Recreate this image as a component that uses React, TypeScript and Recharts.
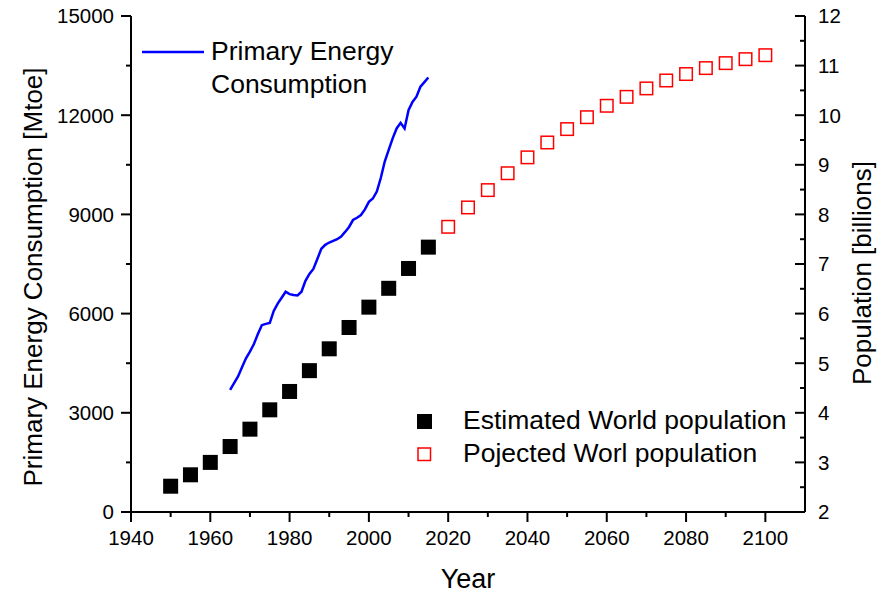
import React from 'react';
import { ComposedChart, Line, Scatter, XAxis, YAxis, Legend } from 'recharts';

// primary energy consumption, Mtoe per year
const energyYears = [
    1965, 1966, 1967, 1968, 1969, 1970, 1971, 1972, 1973, 1974,
    1975, 1976, 1977, 1978, 1979, 1980, 1981, 1982, 1983, 1984,
    1985, 1986, 1987, 1988, 1989, 1990, 1991, 1992, 1993, 1994,
    1995, 1996, 1997, 1998, 1999, 2000, 2001, 2002, 2003, 2004,
    2005, 2006, 2007, 2008, 2009, 2010, 2011, 2012, 2013, 2014,
    2015,
];
const energyMtoe = [
    3690, 3900, 4100, 4380, 4650, 4850, 5080, 5380, 5650, 5690,
    5720, 6080, 6300, 6480, 6660, 6590, 6560, 6550, 6660, 6990,
    7200, 7350, 7650, 7960, 8080, 8150, 8200, 8250, 8330, 8470,
    8620, 8830, 8900, 8980, 9150, 9380, 9480, 9690, 10100, 10600,
    10950, 11300, 11600, 11770, 11600, 12150, 12400, 12560, 12860, 13000,
    13140,
];

// population, billions
const estimatedYears = [1950, 1955, 1960, 1965, 1970, 1975, 1980, 1985, 1990, 1995, 2000, 2005, 2010, 2015];
const estimatedPop = [2.52, 2.75, 3.0, 3.32, 3.67, 4.06, 4.43, 4.85, 5.29, 5.72, 6.13, 6.51, 6.91, 7.34];

const projectedYears = [2020, 2025, 2030, 2035, 2040, 2045, 2050, 2055, 2060, 2065, 2070, 2075, 2080, 2085, 2090, 2095, 2100];
const projectedPop = [7.75, 8.14, 8.49, 8.83, 9.15, 9.45, 9.72, 9.96, 10.19, 10.37, 10.54, 10.7, 10.83, 10.95, 11.05, 11.13, 11.21];

const yearTicks = [1940, 1950, 1960, 1970, 1980, 1990, 2000, 2010, 2020, 2030, 2040, 2050, 2060, 2070, 2080, 2090, 2100];
const yearLabels = [1940, 1960, 1980, 2000, 2020, 2040, 2060, 2080, 2100];
const energyTicks = [0, 1500, 3000, 4500, 6000, 7500, 9000, 10500, 12000, 13500, 15000];
const energyLabels = [0, 3000, 6000, 9000, 12000, 15000];
const popTicks = [2, 2.5, 3, 3.5, 4, 4.5, 5, 5.5, 6, 6.5, 7, 7.5, 8, 8.5, 9, 9.5, 10, 10.5, 11, 11.5, 12];
const popLabels = [2, 3, 4, 5, 6, 7, 8, 9, 10, 11, 12];

const energyName = 'Primary Energy Consumption';
const estimatedName = 'Estimated World population';
const projectedName = 'Pojected Worl population';

const energyData = energyYears.map((year, i) => ({ year, mtoe: energyMtoe[i] }));
const estimatedData = estimatedYears.map((year, i) => ({ year, pop: estimatedPop[i] }));
const projectedData = projectedYears.map((year, i) => ({ year, pop: projectedPop[i] }));

const FONT = 'Arial, "Liberation Sans", Helvetica, sans-serif';
const MAJOR = 10;
const MINOR = 5;

const BottomTick = (props: any) => {
    const { x, y, payload } = props;
    const major = yearLabels.includes(payload.value);
    return (
        <g>
            <line x1={x} y1={y} x2={x} y2={y + (major ? MAJOR : MINOR)} stroke="#000" strokeWidth={2} />
            {major && (
                <text x={x} y={y + 33} textAnchor="middle" fontSize={20.5} fontFamily={FONT} fill="#000">
                    {payload.value}
                </text>
            )}
        </g>
    );
};

// top mirror axis: ticks point into the plot
const TopTick = (props: any) => {
    const { x, y, payload } = props;
    const major = yearLabels.includes(payload.value);
    return <line x1={x} y1={y} x2={x} y2={y + (major ? MAJOR : MINOR)} stroke="#000" strokeWidth={2} />;
};

const LeftTick = (props: any) => {
    const { x, y, payload } = props;
    const major = energyLabels.includes(payload.value);
    return (
        <g>
            <line x1={x - (major ? MAJOR : MINOR)} y1={y} x2={x} y2={y} stroke="#000" strokeWidth={2} />
            {major && (
                <text x={x - 17} y={y} dy="0.36em" textAnchor="end" fontSize={20.5} fontFamily={FONT} fill="#000">
                    {payload.value}
                </text>
            )}
        </g>
    );
};

// right axis ticks point inward too
const RightTick = (props: any) => {
    const { x, y, payload } = props;
    const major = popLabels.includes(payload.value);
    return (
        <g>
            <line x1={x - (major ? MAJOR : MINOR)} y1={y} x2={x} y2={y} stroke="#000" strokeWidth={2} />
            {major && (
                <text x={x + 13} y={y} dy="0.36em" textAnchor="start" fontSize={20.5} fontFamily={FONT} fill="#000">
                    {payload.value}
                </text>
            )}
        </g>
    );
};

const titleStyle = { fontSize: 26, fontFamily: FONT, fill: '#000' };

const BottomTitle = ({ viewBox }: any) => (
    <text x={viewBox.x + viewBox.width / 2} y={viewBox.y + 76} textAnchor="middle" style={{ ...titleStyle, fontSize: 27 }}>
        Year
    </text>
);

const LeftTitle = ({ viewBox }: any) => {
    const cx = viewBox.x + 33;
    const cy = viewBox.y + 261;
    return (
        <text x={cx} y={cy} dy="0.36em" textAnchor="middle" transform={`rotate(-90 ${cx} ${cy})`} style={titleStyle}>
            Primary Energy Consumption [Mtoe]
        </text>
    );
};

const RightTitle = ({ viewBox }: any) => {
    const cx = viewBox.x + 57;
    const cy = viewBox.y + 257;
    return (
        <text x={cx} y={cy} dy="0.36em" textAnchor="middle" transform={`rotate(-90 ${cx} ${cy})`} style={titleStyle}>
            Population [billions]
        </text>
    );
};

const FilledSquare = (props: any) => (
    <rect x={props.cx - 7.5} y={props.cy - 7.5} width={15} height={15} fill="#000" />
);

const OpenSquare = (props: any) => (
    <rect x={props.cx - 6.25} y={props.cy - 6.25} width={12.5} height={12.5} fill="#fff" stroke="#ff0000" strokeWidth={1.5} />
);

const legendText: React.CSSProperties = {
    position: 'absolute',
    fontFamily: FONT,
    fontSize: 26.5,
    color: '#000',
    whiteSpace: 'normal',
};

const ChartLegend = ({ payload }: any) => {
    const items = payload || [];
    const lineItem = items.find((p: any) => p.value === energyName);
    const markerItems = items.filter((p: any) => p.value !== energyName);
    return (
        <div style={{ position: 'relative', width: 881, height: 594 }}>
            {lineItem && (
                <>
                    <svg style={{ position: 'absolute', left: 142, top: 50 }} width={62} height={4}>
                        <line x1={0} y1={2} x2={62} y2={2} stroke="#0000ff" strokeWidth={2.5} />
                    </svg>
                    <div style={{ ...legendText, left: 211, top: 35, width: 200, lineHeight: '33px' }}>
                        {lineItem.value}
                    </div>
                </>
            )}
            {markerItems.map((item: any, i: number) => {
                const top = 404 + i * 32.5;
                const filled = item.value === estimatedName;
                return (
                    <React.Fragment key={item.value}>
                        <svg style={{ position: 'absolute', left: 416, top: top + 9 }} width={17} height={17}>
                            {filled ? (
                                <rect x={1} y={1} width={15} height={15} fill="#000" />
                            ) : (
                                <rect x={2} y={2} width={12.5} height={12.5} fill="#fff" stroke="#ff0000" strokeWidth={1.5} />
                            )}
                        </svg>
                        <div style={{ ...legendText, left: 463, top, lineHeight: '32.5px', whiteSpace: 'nowrap' }}>
                            {item.value}
                        </div>
                    </React.Fragment>
                );
            })}
        </div>
    );
};

export default function App() {
    const axisLine = { stroke: '#000', strokeWidth: 2 };
    return (
        <div style={{ position: 'absolute', left: 0, top: 0, background: '#fff' }}>
            <ComposedChart width={881} height={594} margin={{ top: 16, right: 0, bottom: 0, left: 0 }} style={{ fontFamily: FONT }}>
                <XAxis
                    xAxisId="b"
                    dataKey="year"
                    type="number"
                    domain={[1940, 2110]}
                    ticks={yearTicks}
                    interval={0}
                    allowDataOverflow
                    height={82}
                    axisLine={axisLine}
                    tickLine={false}
                    tickSize={0}
                    tickMargin={0}
                    tick={<BottomTick />}
                    label={(p: any) => <BottomTitle {...p} />}
                />
                <XAxis
                    xAxisId="t"
                    orientation="top"
                    type="number"
                    domain={[1940, 2110]}
                    ticks={yearTicks}
                    interval={0}
                    allowDataOverflow
                    height={0}
                    axisLine={axisLine}
                    tickLine={false}
                    tickSize={0}
                    tickMargin={0}
                    tick={<TopTick />}
                />
                <YAxis
                    yAxisId="l"
                    type="number"
                    domain={[0, 15000]}
                    ticks={energyTicks}
                    interval={0}
                    allowDataOverflow
                    width={131}
                    axisLine={axisLine}
                    tickLine={false}
                    tickSize={0}
                    tickMargin={0}
                    tick={<LeftTick />}
                    label={(p: any) => <LeftTitle {...p} />}
                />
                <YAxis
                    yAxisId="r"
                    orientation="right"
                    type="number"
                    domain={[2, 12]}
                    ticks={popTicks}
                    interval={0}
                    allowDataOverflow
                    width={76}
                    axisLine={axisLine}
                    tickLine={false}
                    tickSize={0}
                    tickMargin={0}
                    tick={<RightTick />}
                    label={(p: any) => <RightTitle {...p} />}
                />
                <Legend
                    layout="horizontal"
                    verticalAlign="middle"
                    align="center"
                    wrapperStyle={{ position: 'absolute', left: 0, top: 0, width: 881, height: 594, pointerEvents: 'none' }}
                    content={(p: any) => <ChartLegend {...p} />}
                />
                <Line
                    xAxisId="b"
                    yAxisId="l"
                    data={energyData}
                    dataKey="mtoe"
                    name={energyName}
                    type="linear"
                    stroke="#0000ff"
                    strokeWidth={2.5}
                    dot={false}
                    isAnimationActive={false}
                />
                <Scatter
                    xAxisId="b"
                    yAxisId="r"
                    data={estimatedData}
                    dataKey="pop"
                    name={estimatedName}
                    fill="#000"
                    legendType="square"
                    shape={<FilledSquare />}
                    isAnimationActive={false}
                />
                <Scatter
                    xAxisId="b"
                    yAxisId="r"
                    data={projectedData}
                    dataKey="pop"
                    name={projectedName}
                    fill="#fff"
                    legendType="square"
                    shape={<OpenSquare />}
                    isAnimationActive={false}
                />
            </ComposedChart>
        </div>
    );
}
